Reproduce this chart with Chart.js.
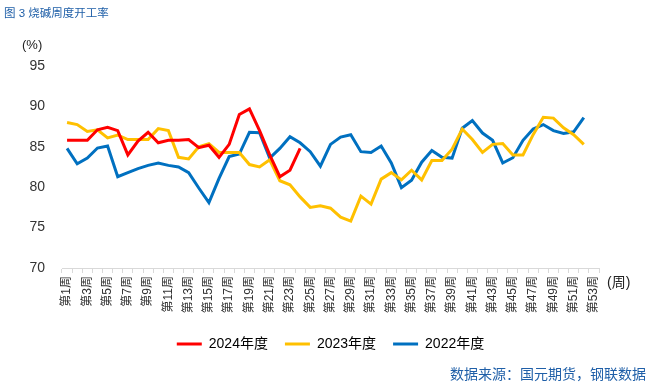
<!DOCTYPE html>
<html>
<head>
<meta charset="utf-8">
<script src="https://cdn.jsdelivr.net/npm/chart.js@4"></script>
<style>
  html, body { margin: 0; padding: 0; background: #fff; }
  #wrap { width: 650px; height: 388px; position: relative; }
</style>
</head>
<body>
<div id="wrap"><canvas id="graph" width="650" height="388"></canvas></div>
<script>
// weeks 第1周 .. 第53周
var weeks = [];
for (var w = 1; w <= 53; w++) weeks.push('第' + w + '周');

var y2024 = [85.8, 85.8, 85.8, 87.1, 87.4, 87.0, 84.0, 85.7, 86.8, 85.5, 85.8, 85.8,
  85.9, 84.9, 85.2, 83.7, 85.3, 89.0, 89.7, 87.0, 84.0, 81.3, 82.1, 84.8];

var y2023 = [88.0, 87.75, 86.9, 87.1, 86.1, 86.45, 85.9, 85.9, 85.9, 87.25, 87.0, 83.7,
  83.5, 85.0, 85.4, 84.3, 84.3, 84.3, 82.8, 82.5, 83.4, 80.8, 80.3, 78.8, 77.5, 77.7,
  77.4, 76.3, 75.8, 78.9, 77.9, 81.0, 81.8, 80.9, 82.1, 80.9, 83.3, 83.3, 84.7, 87.2,
  85.9, 84.3, 85.3, 85.4, 84.0, 84.0, 86.5, 88.65, 88.55, 87.35, 86.5, 85.3];

var y2022 = [84.8, 82.9, 83.6, 84.85, 85.1, 81.3, 81.8, 82.3, 82.7, 83.0, 82.7, 82.5,
  81.8, 79.9, 78.1, 81.1, 83.8, 84.1, 86.8, 86.75, 83.6, 84.8, 86.25, 85.5, 84.4, 82.6,
  85.3, 86.2, 86.5, 84.4, 84.3, 85.1, 83.0, 79.95, 80.85, 83.1, 84.55, 83.7, 83.6, 87.3,
  88.25, 86.7, 85.8, 83.0, 83.65, 85.8, 87.2, 87.75, 87.0, 86.65, 86.85, 88.6];

var seriesNames = ['2024年度', '2023年度', '2022年度'];
var seriesColors = ['#FF0000', '#FFC000', '#0070C0'];

var FONT = '"Liberation Sans", "Noto Sans CJK SC", sans-serif';

function mkSet(i, data) {
  return {
    label: seriesNames[i],
    data: data,
    borderColor: seriesColors[i],
    backgroundColor: seriesColors[i],
    borderWidth: 3,
    pointRadius: 0,
    tension: 0,
    fill: false
  };
}

// extra texts: title, units, source
var textsPlugin = {
  id: 'texts',
  afterDraw: function (chart) {
    var c = chart.ctx;
    var a = chart.chartArea;
    c.save();
    c.textBaseline = 'middle';
    c.fillStyle = '#1F5FA8';
    c.font = '11.5px ' + FONT;
    c.textAlign = 'left';
    c.fillText('图 3 烧碱周度开工率', 4, 14);
    c.font = '14px ' + FONT;
    c.textAlign = 'right';
    c.fillText('数据来源：国元期货，钢联数据', 646, 375);
    c.fillStyle = '#222';
    c.textAlign = 'left';
    c.font = '13px ' + FONT;
    c.fillText('(%)', 22, 45);
    c.font = '14px ' + FONT;
    c.fillText('(周)', a.right + 8, 283);
    c.restore();
  }
};

var ctx = document.getElementById('graph').getContext('2d');
var chart = new Chart(ctx, {
  type: 'line',
  data: {
    labels: weeks,
    datasets: [mkSet(0, y2024), mkSet(1, y2023), mkSet(2, y2022)]
  },
  plugins: [textsPlugin],
  options: {
    responsive: false,
    animation: false,
    layout: { padding: { top: 66, left: 0, right: 51, bottom: 27 } },
    plugins: {
      title: { display: false },
      tooltip: { enabled: false },
      legend: {
        position: 'bottom',
        fullSize: false,
        labels: {
          boxWidth: 25,
          boxHeight: 3,
          padding: 17,
          color: '#000',
          font: { family: FONT, size: 14 },
          generateLabels: function (chart) {
            var items = Chart.defaults.plugins.legend.labels.generateLabels(chart);
            items.forEach(function (it) { it.lineWidth = 0; });
            return items;
          }
        }
      }
    },
    scales: {
      x: {
        offset: true,
        grid: { display: true, drawOnChartArea: false, tickLength: 5, color: '#D9D9D9', offset: true },
        border: { display: true, color: '#D9D9D9' },
        ticks: {
          autoSkip: false,
          minRotation: 90,
          maxRotation: 90,
          padding: 3,
          color: '#333',
          font: { family: FONT, size: 12 },
          callback: function (v, i) { return i % 2 === 0 ? weeks[i] : ''; }
        },
        afterFit: function (s) { s.height = 52; }
      },
      y: {
        min: 70,
        max: 95,
        ticks: {
          stepSize: 5,
          padding: 9,
          color: '#333',
          font: { family: FONT, size: 14 }
        },
        grid: { display: false },
        border: { display: false },
        afterFit: function (s) { s.width = 62; }
      }
    }
  }
});
</script>
</body>
</html>
